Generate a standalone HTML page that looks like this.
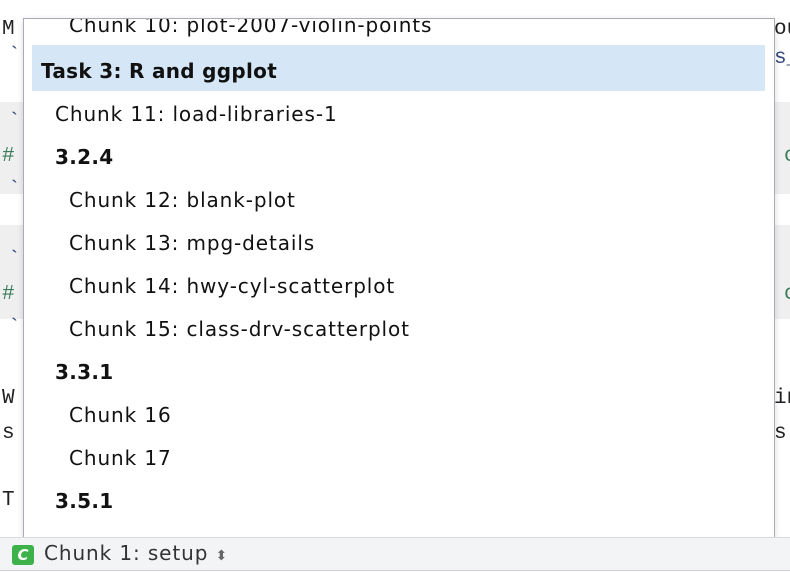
<!DOCTYPE html>
<html><head><style>
body{margin:0;width:790px;height:572px;position:relative;overflow:hidden;background:#fff;font-family:"DejaVu Sans",sans-serif}
.band{position:absolute;left:0;width:790px;background:#efefef}
.m{position:absolute;font-family:"Liberation Mono",monospace;font-size:21px;color:#222;line-height:22px}
.pop{position:absolute;left:23px;top:18px;width:750px;height:518px;border:1px solid #a9acb6;background:#fff;overflow:hidden;box-shadow:0 2px 6px rgba(0,0,0,.15)}
.it{position:absolute;font-size:20px;color:#111;line-height:24px;white-space:nowrap;letter-spacing:0.9px}
.b{font-weight:bold;letter-spacing:0.3px}
.hl{position:absolute;left:8px;top:26px;width:733px;height:46px;background:#d5e7f6}
.status{position:absolute;left:0;top:537px;width:790px;height:32px;background:#f2f4f6;border-top:1px solid #d8dadd;border-bottom:1px solid #d0d2d5}
</style></head><body>
<div class="band" style="top:102px;height:92px"></div>
<div class="band" style="top:225px;height:94px"></div>
<div class="m" style="left:2px;top:19px">M</div>
<div class="m" style="left:774px;top:19px">ou</div>
<div class="m" style="left:774px;top:48px;color:#34497a">s_</div>
<div class="m" style="left:8px;top:46px;color:#34497a">`</div>
<div class="m" style="left:8px;top:112px;color:#34497a">`</div>
<div class="m" style="left:2px;top:146px;color:#3b7d5a">#</div>
<div class="m" style="left:8px;top:180px;color:#34497a">`</div>
<div class="m" style="left:8px;top:250px;color:#34497a">`</div>
<div class="m" style="left:2px;top:284px;color:#3b7d5a">#</div>
<div class="m" style="left:8px;top:318px;color:#34497a">`</div>
<div class="m" style="left:784px;top:146px;color:#3b7d5a">c</div>
<div class="m" style="left:784px;top:284px;color:#3b7d5a">c</div>
<div class="m" style="left:2px;top:388px">W</div>
<div class="m" style="left:2px;top:423px">s</div>
<div class="m" style="left:2px;top:490px">T</div>
<div class="m" style="left:774px;top:388px">in</div>
<div class="m" style="left:774px;top:423px">s</div>
<div class="pop">
<div class="it" style="left:45px;top:-6px">Chunk 10: plot-2007-violin-points</div>
<div class="hl"></div>
<div class="it b" style="left:17px;top:40px">Task 3: R and ggplot</div>
<div class="it" style="left:31px;top:83px">Chunk 11: load-libraries-1</div>
<div class="it b" style="left:31px;top:126px">3.2.4</div>
<div class="it" style="left:45px;top:169px">Chunk 12: blank-plot</div>
<div class="it" style="left:45px;top:212px">Chunk 13: mpg-details</div>
<div class="it" style="left:45px;top:255px">Chunk 14: hwy-cyl-scatterplot</div>
<div class="it" style="left:45px;top:298px">Chunk 15: class-drv-scatterplot</div>
<div class="it b" style="left:31px;top:341px">3.3.1</div>
<div class="it" style="left:45px;top:384px">Chunk 16</div>
<div class="it" style="left:45px;top:427px">Chunk 17</div>
<div class="it b" style="left:31px;top:470px">3.5.1</div>
</div>
<div class="status">
<div style="position:absolute;left:12px;top:7px;width:22px;height:20px;background:#3db24a;border-radius:3px;color:#fff;font-style:italic;font-weight:bold;font-size:15px;text-align:center;line-height:20px">C</div>
<div style="position:absolute;left:44px;top:3px;font-size:20px;color:#333;letter-spacing:0.9px;white-space:nowrap">Chunk 1: setup <span style="font-size:14px;color:#666">&#x2B0D;</span></div>
</div>
</body></html>
